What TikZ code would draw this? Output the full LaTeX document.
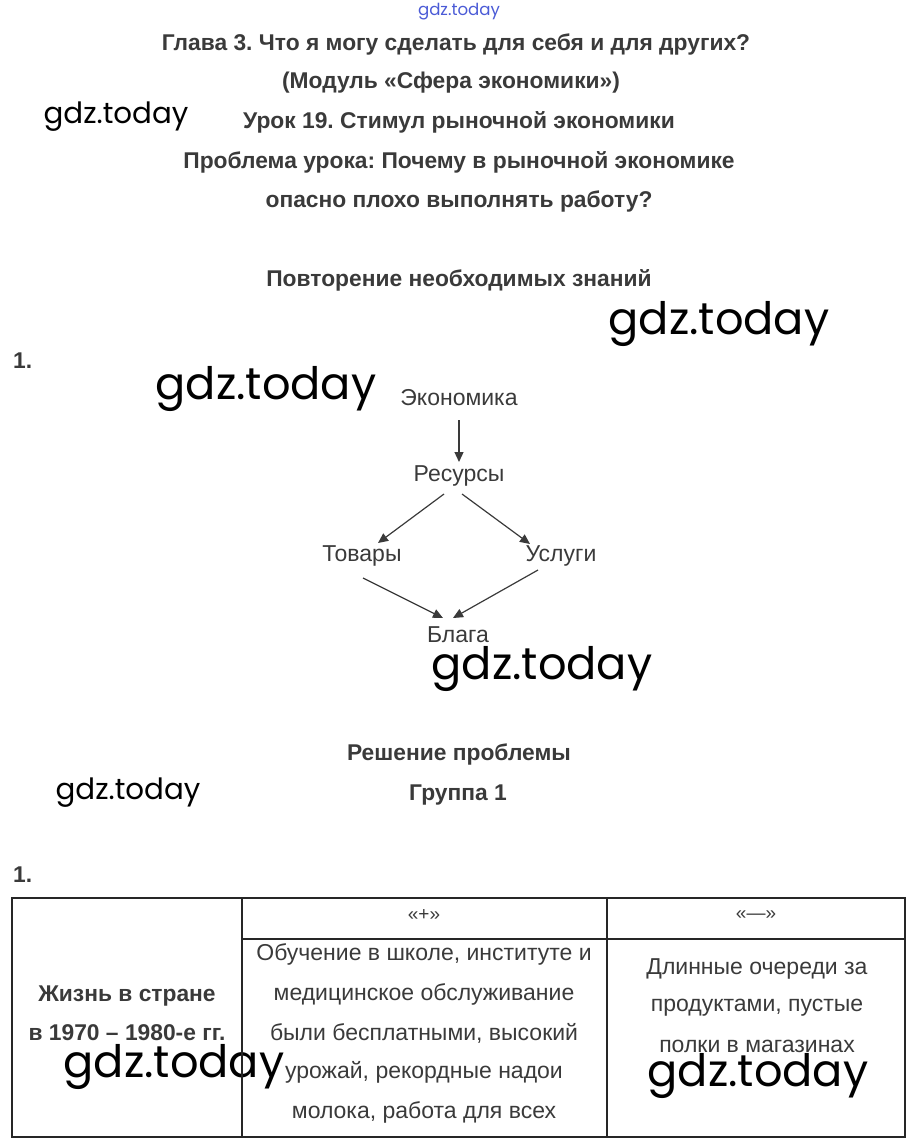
\documentclass[tikz,border=0pt]{standalone}
\usepackage{fontspec}
\setmainfont{Liberation Sans}
\newfontfamily\wmfont{Poppins}
\usetikzlibrary{arrows.meta}
\definecolor{txt}{HTML}{3A3A3A}
\definecolor{wmblue}{HTML}{4B5BD6}
\frenchspacing
\tikzset{
  head/.style={font=\fontsize{22.8}{26}\selectfont\bfseries, text=txt, inner sep=0pt, yshift=-1.5pt},
  term/.style={font=\fontsize{23}{26}\selectfont, text=txt, inner sep=0pt},
  cell/.style={font=\fontsize{23}{26}\selectfont, text=txt, inner sep=0pt, yshift=-1.5pt},
  wmbig/.style={font=\wmfont\fontsize{44.7}{48}\selectfont, text=black, inner sep=0pt},
  wmsmall/.style={font=\wmfont\fontsize{29.3}{32}\selectfont, text=black, inner sep=0pt},
  arr/.style={draw=txt, line width=1.2pt, -{Triangle[length=10pt,width=9pt]}},
  rule/.style={draw=black!85, line width=1.1pt}
}
\begin{document}
\begin{tikzpicture}[x=1pt,y=-1pt]
\useasboundingbox (0,0) rectangle (915,1148);
% watermarks
\node[font=\wmfont\fontsize{16.6}{19}\selectfont, text=wmblue, inner sep=0pt] (wm0) at (459,12) {gdz.today};
\node[wmsmall] (wm1) at (116,117) {gdz.today};
\node[wmbig] (wm2) at (719,324) {gdz.today};
\node[wmbig] (wm3) at (266,389) {gdz.today};
\node[wmbig] (wm4) at (542,669) {gdz.today};
\node[wmsmall] (wm5) at (128,793) {gdz.today};
\node[wmbig] (wm6) at (174,1067) {gdz.today};
\node[wmbig] (wm7) at (758,1076) {gdz.today};
% headings
\node[head] (h1) at (456,43) {Глава 3. Что я могу сделать для себя и для других?};
\node[head] (h2) at (451,81) {(Модуль «Сфера экономики»)};
\node[head] (h3) at (459,121) {Урок 19. Стимул рыночной экономики};
\node[head] (h4) at (459,161) {Проблема урока: Почему в рыночной экономике};
\node[head] (h5) at (459,200) {опасно плохо выполнять работу?};
\node[head] (h6) at (459,279) {Повторение необходимых знаний};
\node[head, anchor=west] (n1) at (13,359) {1.};
% diagram
\node[term] (eco) at (459,398) {Экономика};
\node[term] (res) at (459,476) {Ресурсы};
\node[term] (tov) at (362,556) {Товары};
\node[term] (usl) at (561,556) {Услуги};
\node[term] (bla) at (458,635) {Блага};
\draw[arr] ([shift={(0,22)}]eco.center) -- ([shift={(0,64)}]eco.center);
\draw[arr] ([shift={(-15,18)}]res.center) -- ([shift={(16,-13)}]tov.center);
\draw[arr] ([shift={(3,18)}]res.center) -- ([shift={(-31,-12)}]usl.center);
\draw[arr] ([shift={(1,22)}]tov.center) -- ([shift={(-15,-17)}]bla.center);
\draw[arr] ([shift={(-23,14)}]usl.center) -- ([shift={(-5,-17)}]bla.center);
% section 2
\node[head] (h7) at (459,753) {Решение проблемы};
\node[head] (h8) at (458,794) {Группа 1};
\node[head, anchor=west] (n2) at (13,873) {1.};
% table
\coordinate (tl) at (12,898);
\coordinate (br) at (905,1137);
\coordinate (c1t) at (242,898);
\coordinate (c1b) at (242,1137);
\coordinate (c2t) at (607,898);
\coordinate (c2b) at (607,1137);
\coordinate (hl) at (242,939);
\coordinate (hr) at (905,939);
\draw[rule] (tl) rectangle (br);
\draw[rule] (c1t) -- (c1b);
\draw[rule] (c2t) -- (c2b);
\draw[rule] (hl) -- (hr);
\node[cell, font=\fontsize{19}{22}\selectfont] (plus) at (424,914) {«+»};
\node[cell, font=\fontsize{19}{22}\selectfont] (minus) at (756,914) {«—»};
\node[head, align=center, font=\fontsize{22.8}{26}\selectfont\bfseries] (life) at (127,1012) {Жизнь в стране\\[13pt]в 1970 – 1980-е гг.};
\node[cell] (p1) at (424,953) {Обучение в школе, институте и};
\node[cell] (p2) at (424,993) {медицинское обслуживание};
\node[cell] (p3) at (424,1032) {были бесплатными, высокий};
\node[cell] (p4) at (424,1071) {урожай, рекордные надои};
\node[cell] (p5) at (424,1111) {молока, работа для всех};
\node[cell] (m1) at (757,967) {Длинные очереди за};
\node[cell] (m2) at (757,1006) {продуктами, пустые};
\node[cell] (m3) at (757,1045) {полки в магазинах};
\end{tikzpicture}
\end{document}
